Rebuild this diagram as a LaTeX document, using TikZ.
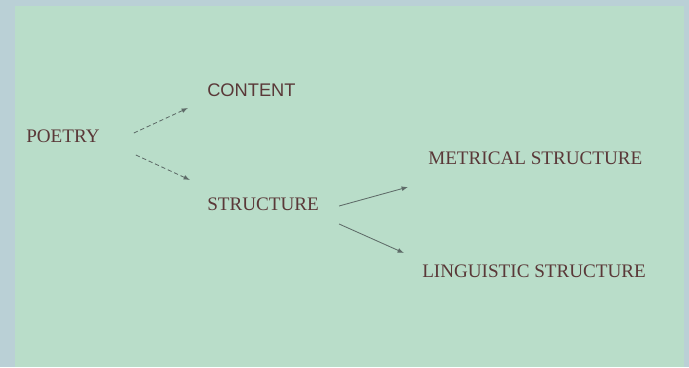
\documentclass[tikz,border=0pt]{standalone}
\usepackage{fontspec}
\setmainfont{Liberation Serif}
\newfontfamily\sansfont{Liberation Sans}
\usepackage{tikz}
\usetikzlibrary{arrows.meta,positioning,calc}
\definecolor{mint}{HTML}{B9DDC9}
\definecolor{rim}{HTML}{BAD0D6}
\definecolor{ink}{HTML}{5A3838}
\definecolor{wire}{HTML}{5E6B68}

\begin{document}
\begin{tikzpicture}[every node/.style={font=\fontsize{13.6}{15}\selectfont,text=ink,inner sep=0pt,anchor=west},link/.style={-{Latex[length=1.6mm,width=1.2mm]},wire,densely dashed,line width=0.6pt}]
\fill[rim] (0,0) rectangle (17.225,9.175);
\fill[mint] (0.375,0) rectangle (17.1,9.025);
\useasboundingbox (0,0) rectangle (17.225,9.175);
\node (poetry) at (0.65,5.775) {POETRY};
\node[font=\sansfont\fontsize{13}{15}\selectfont] (content) at (5.175,6.925) {CONTENT};
\node (structure) at (5.175,4.075) {STRUCTURE};
\node (metrical) at (10.7,5.225) {METRICAL STRUCTURE};
\node (linguistic) at (10.55,2.4) {LINGUISTIC STRUCTURE};
\draw[link] ([xshift=0.85cm,yshift=0.075cm]poetry.east) -- ([xshift=-0.475cm,yshift=-0.45cm]content.west);
\draw[link] ([xshift=0.9cm,yshift=-0.475cm]poetry.east) -- ([xshift=-0.425cm,yshift=0.6cm]structure.west);
\draw[link,solid] ([xshift=0.5cm,yshift=-0.05cm]structure.east) -- ([xshift=-0.5cm,yshift=-0.725cm]metrical.west);
\draw[link,solid] ([xshift=0.5cm,yshift=-0.5cm]structure.east) -- ([xshift=-0.45cm,yshift=0.45cm]linguistic.west);
\end{tikzpicture}
\end{document}
